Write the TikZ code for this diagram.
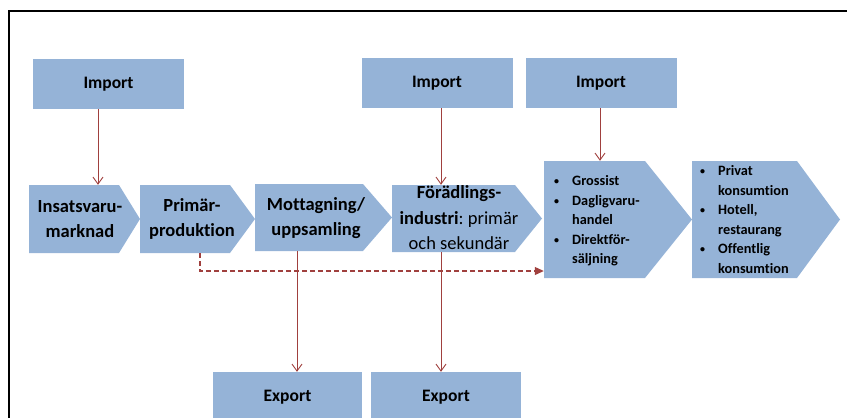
\documentclass[tikz,border=0pt]{standalone}
\usepackage{fontspec}
\setmainfont{Carlito}[Ligatures=NoCommon]
\usetikzlibrary{arrows.meta,calc}
\definecolor{boxblue}{HTML}{95B3D7}
\definecolor{arrred}{HTML}{A0403E}
\newcommand{\chevshape}[6]{%
  \fill[boxblue] (#2,#3) -- (#4,#3) -- (#6,{(#3+#5)/2}) -- (#4,#5) -- (#2,#5) -- cycle;
  \node[inner sep=0pt, minimum width={(#6-#2)*1pt}, minimum height={(#5-#3)*1pt}] (#1) at ({(#2+#6)/2},{(#3+#5)/2}) {};%
}
\newcommand{\smbul}{\raisebox{1.2pt}{\fontsize{10}{10}\selectfont\textbullet}}
\begin{document}
\begin{tikzpicture}[x=1pt,y=-1pt,
  imbox/.style={fill=boxblue, minimum width=151pt, minimum height=50pt, inner sep=0pt, font=\bfseries\fontsize{17.5}{20}\selectfont},
  chevtext/.style={align=center, inner sep=0pt, font=\bfseries\fontsize{18.5}{25}\selectfont},
  chevplain/.style={align=center, inner sep=0pt, font=\fontsize{18.5}{25.5}\selectfont},
  bulltext/.style={inner sep=0pt, anchor=west, font=\bfseries\fontsize{14.3}{19.5}\selectfont},
  flow/.style={draw=arrred, line width=0.9pt, -{Straight Barb[length=7pt,width=10pt]}},
  dashflow/.style={draw=arrred, line width=1.1pt, dash pattern=on 5pt off 3pt, -{Triangle[length=9pt,width=8pt]}}
]
\useasboundingbox (0,0) rectangle (847,418);
\clip (0,0) rectangle (847,418);
% frame
\draw[line width=2.5pt] (9,440) -- (9,11) -- (870,11);
% import / export boxes
\node[imbox] (imp1) at (108.5,84) {Import};
\node[imbox] (imp2) at (437,83) {Import};
\node[imbox] (imp3) at (601,83) {Import};
\node[imbox, minimum width=149pt] (exp1) at (287.5,397) {Export};
\node[imbox, minimum width=150pt] (exp2) at (446,397) {Export};
% chevrons
\chevshape{ins}{29}{185}{119}{253}{140}
\chevshape{pri}{140}{185}{230}{253}{255}
\chevshape{mot}{255}{184}{363}{251}{392}
\chevshape{for}{392}{185}{515}{252}{542}
\chevshape{gro}{544}{161}{645}{278}{692}
\chevshape{kon}{692}{161}{797}{278}{840}
% chevron texts
\node[chevtext] (inst) at (80,219) {Insatsvaru-\\marknad};
\node[chevtext] (prit) at (192,219) {Primär-\\produktion};
\node[chevtext] (mott) at (316,218) {Mottagning/\\uppsamling};
\node[chevplain] (fort) at (459,218) {\textbf{Förädlings-}\\\textbf{industri}:~primär\\och sekundär};
\node[bulltext] (grot) at (554,221) {\begin{tabular}{@{}p{18pt}@{}l@{}}
\smbul & Grossist\\
\smbul & Dagligvaru-\\
 & handel\\
\smbul & Direktför-\\
 & säljning
\end{tabular}};
\node[bulltext] (kont) at (700,220.5) {\begin{tabular}{@{}p{18pt}@{}l@{}}
\smbul & Privat\\
 & konsumtion\\
\smbul & Hotell,\\
 & restaurang\\
\smbul & Offentlig\\
 & konsumtion
\end{tabular}};
% connectors
\draw[flow] (imp1.south -| 98,0) -- (ins.north -| 98,0);
\draw[flow] (imp2.south -| 441,0) -- (for.north -| 441,0);
\draw[flow] (imp3.south -| 600,0) -- (gro.north -| 600,0);
\draw[flow] (mot.south -| 297,0) -- (exp1.north -| 297,0);
\draw[flow] (for.south -| 441,0) -- (exp2.north -| 441,0);
\draw[dashflow] (pri.south -| 200,0) |- (gro.west |- 0,271);
\end{tikzpicture}
\end{document}
